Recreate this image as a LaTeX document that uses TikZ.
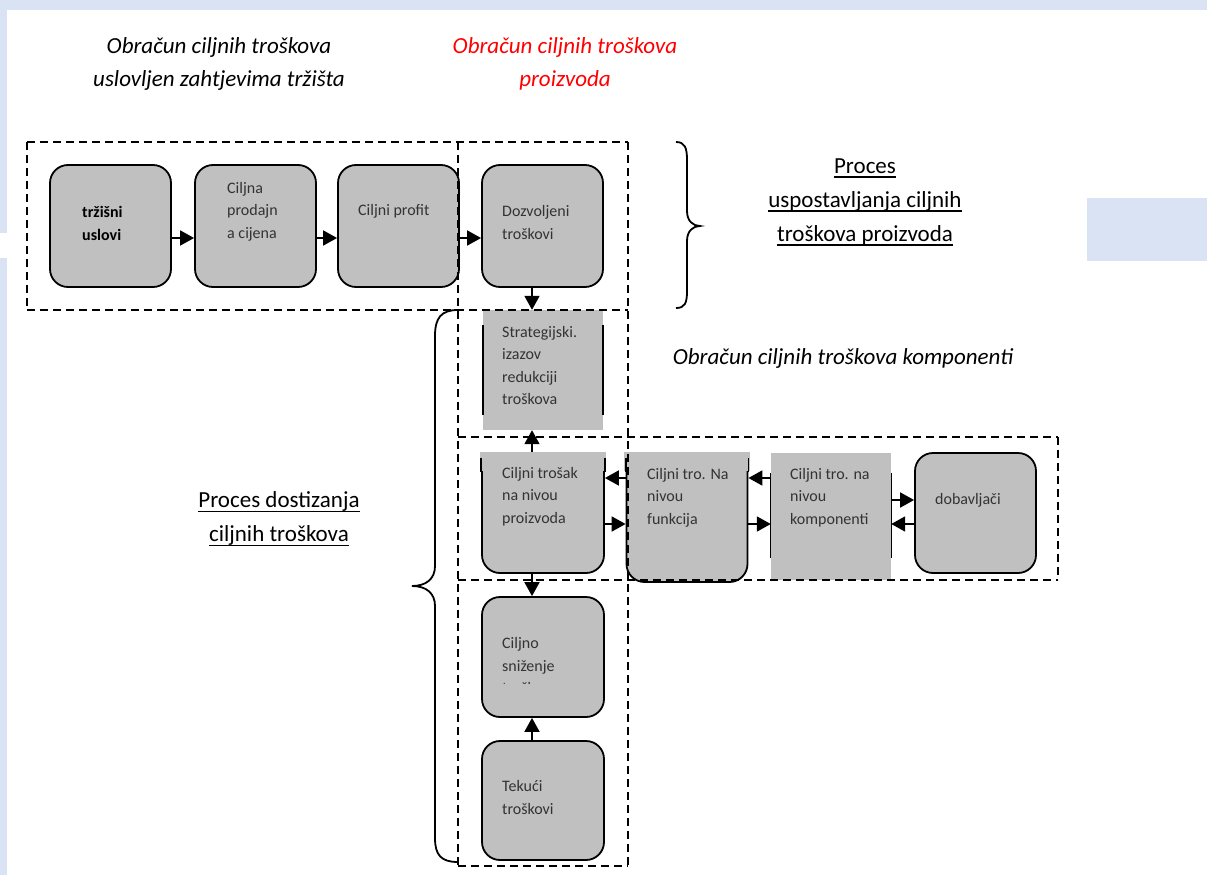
\documentclass[tikz,border=0pt]{standalone}
\usepackage{fontspec}
\setmainfont{Carlito}
\usetikzlibrary{arrows.meta}
\definecolor{bandblue}{HTML}{DAE3F3}
\definecolor{boxgray}{HTML}{C0C0C0}
\definecolor{txtgray}{HTML}{333333}
\newcommand{\myul}[1]{\setbox0\hbox{#1}\rlap{\rule[-4.5pt]{\wd0}{1.5pt}}\box0}
\begin{document}
\begin{tikzpicture}[x=1pt,y=-1pt,
  box/.style={draw=black, line width=1.8pt, fill=boxgray, rounded corners=18pt, minimum width=121pt, minimum height=120pt, inner sep=0pt},
  plainbox/.style={fill=boxgray, minimum width=120pt, minimum height=120pt, inner sep=0pt},
  btxt/.style={anchor=west, align=left, inner sep=0pt, text=txtgray, font=\fontsize{16}{22.5}\selectfont},
  lbl/.style={align=center, inner sep=0pt, font=\fontsize{23}{34}\selectfont},
  dsh/.style={line width=1.6pt, dash pattern=on 8pt off 5pt},
  arr/.style={line width=1.8pt, -{Triangle[length=14pt,width=15pt]}},
  brace/.style={line width=1.8pt},
  side/.style={line width=1.8pt}
]
\useasboundingbox (0,0) rectangle (1207,875);
% background bands
\fill[bandblue] (0,0) rectangle (1207,10);
\fill[bandblue] (0,0) rectangle (7,233);
\fill[bandblue] (0,258) rectangle (7,875);
\fill[bandblue] (1087,198) rectangle (1207,261);

% helper coordinates for connector rows / column
\coordinate (rt) at (0,238);
\coordinate (r1) at (0,478);
\coordinate (r2) at (0,524);
\coordinate (r3) at (0,500);
\coordinate (cx) at (532,0);

% boxes
\node[box, minimum height=122pt] (b1) at (110.5,226) {};
\node[box, minimum height=122pt] (b2) at (255.5,226) {};
\node[box, minimum height=122pt] (b3) at (398.5,226) {};
\node[box, minimum height=122pt] (b4) at (542.5,226) {};
\node[plainbox] (b5) at (543,370) {};
\draw[line width=1.5pt] ([yshift=-15pt]b5.north west) -- ([yshift=15pt]b5.south west);
\draw[line width=1.5pt] ([yshift=-15pt]b5.north east) -- ([yshift=15pt]b5.south east);
\node[box, minimum width=122pt] (b6) at (543,513) {};
\fill[boxgray] ([xshift=-1.5pt]b6.north west) rectangle ([xshift=1.5pt,yshift=-19pt]b6.north east);
\draw[side] ([yshift=-6pt]b6.north west) -- ([yshift=-20pt]b6.north west);
\draw[side] ([yshift=-6pt]b6.north east) -- ([yshift=-20pt]b6.north east);
\node[box, minimum height=129pt] (b7) at (687,517.5) {};
\fill[boxgray] ([xshift=-1.5pt]b7.north west) rectangle ([xshift=1.5pt,yshift=-19pt]b7.north east);
\draw[side] ([yshift=-6pt]b7.north west) -- ([yshift=-20pt]b7.north west);
\draw[side] ([yshift=-6pt]b7.north east) -- ([yshift=-20pt]b7.north east);
\node[plainbox, minimum height=127pt] (b8) at (831,516.5) {};
\draw[line width=1pt] ([yshift=-20pt]b8.north west) -- ([yshift=22pt]b8.south west);
\draw[line width=1pt] ([yshift=-20pt]b8.north east) -- ([yshift=22pt]b8.south east);
\node[box] (b9) at (975.5,513) {};
\node[box, minimum width=122pt] (b10) at (543,657) {};
\node[box, minimum width=122pt, minimum height=119pt] (b11) at (543,800.5) {};

% box texts
\node[btxt, text=black, font=\fontsize{16}{22.5}\selectfont\bfseries] (t1) at (82,223.5) {tržišni\\uslovi};
\node[btxt] (t2) at (227,211.5) {Ciljna\\prodajn\\a cijena};
\node[btxt] (t3) at (358,211) {Ciljni profit};
\node[btxt] (t4) at (502,222.5) {Dozvoljeni\\troškovi};
\node[btxt] (t5) at (502,365.5) {Strategijski.\\izazov\\redukciji\\troškova};
\node[btxt] (t6) at (502,496.5) {Ciljni trošak\\na nivou\\proizvoda};
\node[btxt] (t7) at (647,497.5) {Ciljni tro. Na\\nivou\\funkcija};
\node[btxt] (t8) at (790,497.5) {Ciljni tro. na\\nivou\\komponenti};
\node[btxt] (t9) at (935,500) {dobavljači};
\begin{scope}
\clip (482,597) rectangle (604,683.5);
\node[btxt] (t10) at (502,665.5) {Ciljno\\sniženje\\troškova};
\end{scope}
\node[btxt] (t11) at (502,797.5) {Tekući\\troškovi};

% dashed frames
\draw[dsh] (27,142) -- (628,142);
\draw[dsh] (27,310) -- (628,310);
\draw[dsh] (27,142) -- (27,310);
\draw[dsh] (458,142) -- (458,866);
\draw[dsh] (628,142) -- (628,866);
\draw[dsh] (458,437) -- (1058,437);
\draw[dsh] (458,580) -- (1058,580);
\draw[dsh] (1058,437) -- (1058,580);
\draw[dsh] (458,866) -- (628,866);

% connectors
\draw[arr] (b1.east |- rt) -- (b2.west |- rt);
\draw[arr] (b2.east |- rt) -- (b3.west |- rt);
\draw[arr] (b3.east |- rt) -- (b4.west |- rt);
\draw[arr] (b4.south -| cx) -- (b5.north -| cx);
\draw[arr] (b6.north -| cx) -- (b5.south -| cx);
\draw[arr] (b7.west |- r1) -- (b6.east |- r1);
\draw[arr] (b6.east |- r2) -- (b7.west |- r2);
\draw[arr] (b8.west |- r1) -- (b7.east |- r1);
\draw[arr] (b7.east |- r2) -- (b8.west |- r2);
\draw[arr] (b8.east |- r3) -- (b9.west |- r3);
\draw[arr] (b9.west |- r2) -- (b8.east |- r2);
\draw[arr] (b6.south -| cx) -- (b10.north -| cx);
\draw[arr] (b11.north -| cx) -- (b10.south -| cx);

% braces
\draw[brace] (676,142) .. controls (685,142) and (687,148) .. (687,160) -- (687,211)
  .. controls (687,221) and (693,226) .. (700,226)
  .. controls (693,226) and (687,231) .. (687,241) -- (687,291)
  .. controls (687,303) and (685,308) .. (676,308);
\draw[brace] (458,310) .. controls (441,310) and (435,318) .. (435,336) -- (435,566)
  .. controls (435,579) and (426,586) .. (412,586)
  .. controls (426,586) and (435,593) .. (435,606) -- (435,838)
  .. controls (435,855) and (441,862) .. (458,862);

% labels
\node[lbl, font=\fontsize{23}{33}\selectfont\itshape] (title1) at (219,63.5) {Obračun ciljnih troškova\\uslovljen zahtjevima tržišta};
\node[lbl, font=\fontsize{23}{33}\selectfont\itshape, text=red] (title2) at (565,63.5) {Obračun ciljnih troškova\\proizvoda};
\node[lbl] (lab1) at (865,202) {\myul{Proces}\\\myul{uspostavljanja ciljnih}\\\myul{troškova proizvoda}};
\node[lbl, font=\fontsize{23}{34}\selectfont\itshape] (lab2) at (843,358) {Obračun ciljnih troškova komponenti};
\node[lbl] (lab3) at (279,519) {\myul{Proces dostizanja}\\\myul{ciljnih troškova}};
\end{tikzpicture}
\end{document}
